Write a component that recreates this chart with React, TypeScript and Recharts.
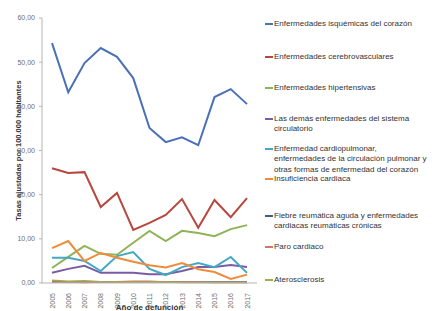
import React from 'react';
import { LineChart, Line, XAxis, YAxis, Legend } from 'recharts';

const years = ['2005', '2006', '2007', '2008', '2009', '2010', '2011', '2012', '2013', '2014', '2015', '2016', '2017'];
const isquemicas = [54.3, 43.2, 49.8, 53.2, 51.2, 46.4, 35.1, 31.9, 33.0, 31.2, 42.1, 43.9, 40.5];
const cerebrovasculares = [26.0, 24.9, 25.1, 17.2, 20.4, 12.0, 13.6, 15.4, 19.0, 12.5, 18.8, 14.9, 19.2];
const hipertensivas = [3.4, 5.9, 8.4, 6.6, 6.4, 9.1, 11.8, 9.5, 11.8, 11.3, 10.6, 12.2, 13.1];
const demas = [2.3, 3.2, 3.9, 2.3, 2.3, 2.3, 2.0, 2.0, 2.7, 3.6, 3.6, 4.1, 3.6];
const cardiopulmonar = [5.7, 5.7, 5.0, 2.7, 6.1, 7.0, 3.2, 1.8, 3.6, 4.5, 3.6, 5.9, 2.3];
const insuficiencia = [7.9, 9.5, 5.0, 6.8, 5.7, 4.8, 4.0, 3.5, 4.5, 3.1, 2.5, 0.9, 1.9];
const fiebre = [0.3, 0.3, 0.2, 0.2, 0.3, 0.3, 0.3, 0.3, 0.2, 0.2, 0.2, 0.2, 0.2];
const paro = [0.2, 0.2, 0.1, 0.2, 0.3, 0.4, 0.4, 0.2, 0.2, 0.2, 0.1, 0.1, 0.1];
const aterosclerosis = [0.6, 0.4, 0.5, 0.3, 0.2, 0.2, 0.2, 0.2, 0.1, 0.1, 0.1, 0.1, 0.1];
const yTicks = [0, 10, 20, 30, 40, 50, 60];

const seriesNames = [
  'Enfermedades isquémicas del corazón',
  'Enfermedades cerebrovasculares',
  'Enfermedades hipertensivas',
  'Las demás enfermedades del sistema\ncirculatorio',
  'Enfermedad cardiopulmonar,\nenfermedades de la circulación pulmonar y\notras formas de enfermedad del corazón',
  'Insuficiencia cardiaca',
  'Fiebre reumática aguda y enfermedades\ncardiacas reumáticas crónicas',
  'Paro cardiaco',
  'Aterosclerosis',
];
const seriesValues = [isquemicas, cerebrovasculares, hipertensivas, demas, cardiopulmonar, insuficiencia, fiebre, paro, aterosclerosis];

// styles
const colors = ['#4a70b6', '#b8473f', '#8fb356', '#7a5ba6', '#43a8c4', '#f08b3c', '#3c5f8c', '#d0766a', '#a6a84e'];
const widths = [2, 2, 2, 2, 2, 2, 1.5, 1.5, 1.5];
const legendCenters = [24, 57, 88, 119, 149, 179, 216, 247, 280];

const data = years.map((y, i) => {
  const row: Record<string, string | number> = { year: y };
  seriesNames.forEach((n, k) => {
    row['s' + k] = seriesValues[k][i];
  });
  return row;
});

const FONT = '"Liberation Sans", Arial, sans-serif';

const fmt = (v: number) => v.toFixed(2).replace('.', ',');

const XTick = (props: any) => {
  const { x, y, payload } = props;
  return (
    <g transform={`translate(${x},${y + 2}) rotate(-90)`}>
      <text x={0} y={0} textAnchor="end" dominantBaseline="central" fontSize={7} fill="#6e6e6e" fontFamily={FONT}>
        {payload.value}
      </text>
    </g>
  );
};

const renderLegend = () => (
  <div style={{ position: 'relative', width: 438, height: 311, fontFamily: FONT }}>
    {seriesNames.map((n, k) => (
      <div key={n} style={{ position: 'absolute', left: 265, top: legendCenters[k] - 5.25 }}>
        <div style={{ position: 'absolute', left: 0, top: 4.5, width: 8, height: 1.5, background: colors[k] }} />
        <div
          style={{
            position: 'absolute',
            left: 9,
            top: 0,
            fontSize: 8,
            lineHeight: '10.5px',
            color: '#333',
            whiteSpace: 'pre',
            textAlign: 'left',
          }}
        >
          {n}
        </div>
      </div>
    ))}
  </div>
);

export default function App() {
  return (
    <div style={{ position: 'absolute', left: 0, top: 0, width: 438, height: 311, background: '#fff' }}>
      <LineChart width={438} height={311} data={data} margin={{ top: 18, right: 181, bottom: 0, left: 0 }}>
        <XAxis
          dataKey="year"
          padding={{ left: 10, right: 10 }}
          axisLine={{ stroke: '#b5b5b5', strokeWidth: 1 }}
          tickLine={false}
          tick={<XTick />}
          height={28}
          interval={0}
          label={{
            content: (p: any) => {
              const vb = p.viewBox;
              return (
                <text x={vb.x + vb.width / 2} y={309.5} textAnchor="middle" fontSize={8} fontWeight="bold" fill="#333" fontFamily={FONT}>
                  Año de defunción
                </text>
              );
            },
          }}
        />
        <YAxis
          domain={[0, 60]}
          ticks={yTicks}
          width={42}
          tickFormatter={fmt}
          axisLine={{ stroke: '#b5b5b5', strokeWidth: 1 }}
          tickLine={{ stroke: '#b5b5b5' }}
          tickSize={3}
          tickMargin={4}
          tick={{ fontSize: 7, fill: '#6e6e6e', fontFamily: FONT }}
          label={{
            content: (p: any) => {
              const vb = p.viewBox;
              const cy = vb.y + vb.height / 2;
              return (
                <text x={18} y={cy} transform={`rotate(-90 18 ${cy})`} textAnchor="middle" dominantBaseline="central" fontSize={7.5} fontWeight="bold" fill="#333" fontFamily={FONT}>
                  Tasas ajustadas por 100.000 habitantes
                </text>
              );
            },
          }}
        />
        {seriesNames.map((n, k) => (
          <Line
            key={n}
            type="linear"
            dataKey={'s' + k}
            name={n}
            stroke={colors[k]}
            strokeWidth={widths[k]}
            dot={false}
            activeDot={false}
            isAnimationActive={false}
          />
        ))}
        <Legend
          layout="horizontal"
          verticalAlign="middle"
          align="center"
          content={renderLegend}
          wrapperStyle={{ left: 0, top: 0, width: 438, height: 311, pointerEvents: 'none' }}
        />
      </LineChart>
    </div>
  );
}
